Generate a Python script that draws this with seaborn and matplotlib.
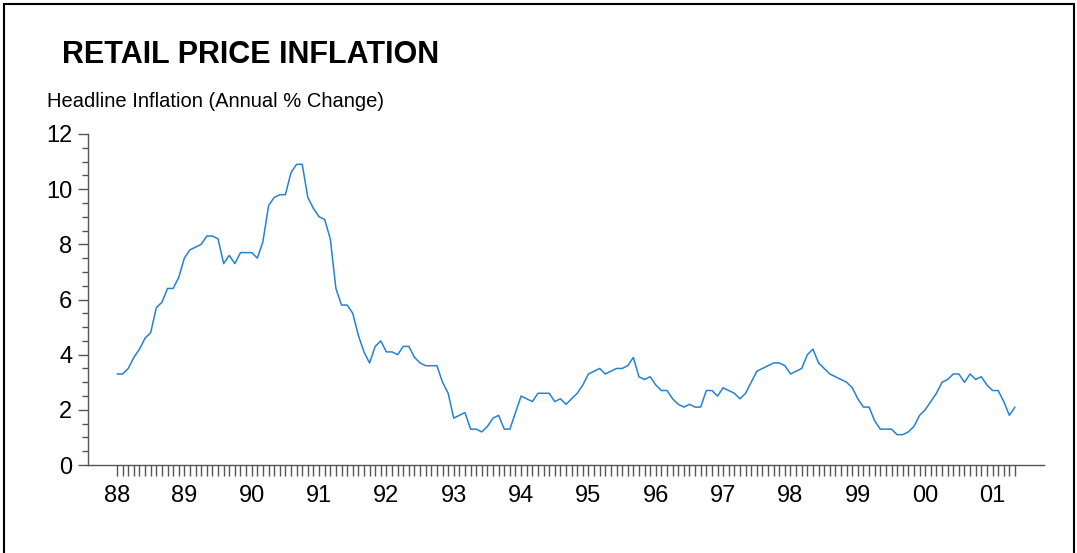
import numpy as np
import pandas as pd
import matplotlib
matplotlib.use("Agg")
import matplotlib.pyplot as plt
from matplotlib.patches import Rectangle
from matplotlib.ticker import MultipleLocator
import seaborn as sns

# headline RPI, annual % change, monthly Jan 1988 - May 2001
rpi_1988 = [3.3, 3.3, 3.5, 3.9, 4.2, 4.6, 4.8, 5.7, 5.9, 6.4, 6.4, 6.8]
rpi_1989 = [7.5, 7.8, 7.9, 8.0, 8.3, 8.3, 8.2, 7.3, 7.6, 7.3, 7.7, 7.7]
rpi_1990 = [7.7, 7.5, 8.1, 9.4, 9.7, 9.8, 9.8, 10.6, 10.9, 10.9, 9.7, 9.3]
rpi_1991 = [9.0, 8.9, 8.2, 6.4, 5.8, 5.8, 5.5, 4.7, 4.1, 3.7, 4.3, 4.5]
rpi_1992 = [4.1, 4.1, 4.0, 4.3, 4.3, 3.9, 3.7, 3.6, 3.6, 3.6, 3.0, 2.6]
rpi_1993 = [1.7, 1.8, 1.9, 1.3, 1.3, 1.2, 1.4, 1.7, 1.8, 1.3, 1.3, 1.9]
rpi_1994 = [2.5, 2.4, 2.3, 2.6, 2.6, 2.6, 2.3, 2.4, 2.2, 2.4, 2.6, 2.9]
rpi_1995 = [3.3, 3.4, 3.5, 3.3, 3.4, 3.5, 3.5, 3.6, 3.9, 3.2, 3.1, 3.2]
rpi_1996 = [2.9, 2.7, 2.7, 2.4, 2.2, 2.1, 2.2, 2.1, 2.1, 2.7, 2.7, 2.5]
rpi_1997 = [2.8, 2.7, 2.6, 2.4, 2.6, 3.0, 3.4, 3.5, 3.6, 3.7, 3.7, 3.6]
rpi_1998 = [3.3, 3.4, 3.5, 4.0, 4.2, 3.7, 3.5, 3.3, 3.2, 3.1, 3.0, 2.8]
rpi_1999 = [2.4, 2.1, 2.1, 1.6, 1.3, 1.3, 1.3, 1.1, 1.1, 1.2, 1.4, 1.8]
rpi_2000 = [2.0, 2.3, 2.6, 3.0, 3.1, 3.3, 3.3, 3.0, 3.3, 3.1, 3.2, 2.9]
rpi_2001 = [2.7, 2.7, 2.3, 1.8, 2.1]

year_labels = ["88", "89", "90", "91", "92", "93", "94",
               "95", "96", "97", "98", "99", "00", "01"]

rpi = (rpi_1988 + rpi_1989 + rpi_1990 + rpi_1991 + rpi_1992 + rpi_1993 + rpi_1994
       + rpi_1995 + rpi_1996 + rpi_1997 + rpi_1998 + rpi_1999 + rpi_2000 + rpi_2001)
df = pd.DataFrame({"month": np.arange(len(rpi)), "rpi": rpi})

sns.set_style("white")
plt.rcParams["font.family"] = ["Liberation Sans", "DejaVu Sans"]
plt.rcParams["text.color"] = "black"

W, H = 1077, 553
fig = plt.figure(figsize=(W / 100, H / 100), dpi=100)
ax = fig.add_axes([88 / W, (H - 465) / H, (1044 - 88) / W, (465 - 134) / H])

sns.lineplot(data=df, x="month", y="rpi", ax=ax, color="#2382d2", linewidth=1.1)

ax.set_xlim(-5.17, 165.17)
ax.set_ylim(0, 12)
ax.set_xlabel("")
ax.set_ylabel("")

axis_col = "#555555"
for s in ["top", "right"]:
    ax.spines[s].set_visible(False)
for s in ["left", "bottom"]:
    ax.spines[s].set_color(axis_col)
    ax.spines[s].set_linewidth(1.0)

ax.set_yticks(np.arange(0, 13, 2))
ax.yaxis.set_minor_locator(MultipleLocator(0.5))
ax.tick_params(axis="y", which="major", length=7.2, width=1, color=axis_col,
               labelsize=17, pad=4, left=True, labelcolor="black")
ax.tick_params(axis="y", which="minor", length=4.3, width=1, color=axis_col, left=True)

ax.set_xticks(np.arange(0, 12 * len(year_labels), 12))
ax.set_xticklabels(year_labels)
ax.set_xticks(np.arange(0, len(rpi)), minor=True)
ax.tick_params(axis="x", which="both", length=7.7, width=1, color=axis_col,
               bottom=True, direction="out")
ax.tick_params(axis="x", which="major", labelsize=17, pad=7, labelcolor="black")
ax.grid(False)

fig.text(62 / W, 1 - 63 / H, "RETAIL PRICE INFLATION", fontsize=22,
         fontweight="bold", va="baseline", ha="left", color="black")
fig.text(47 / W, 1 - 107 / H, "Headline Inflation (Annual % Change)",
         fontsize=14.5, va="baseline", ha="left", color="black")

# frame round the whole chart
fig.patches.append(Rectangle((4 / W, -0.05), (1074 - 4) / W, 1.05 - 4 / H,
                             transform=fig.transFigure, fill=False,
                             edgecolor="black", linewidth=1.5, clip_on=False))

fig.savefig("out.png", dpi=100)
plt.close(fig)
